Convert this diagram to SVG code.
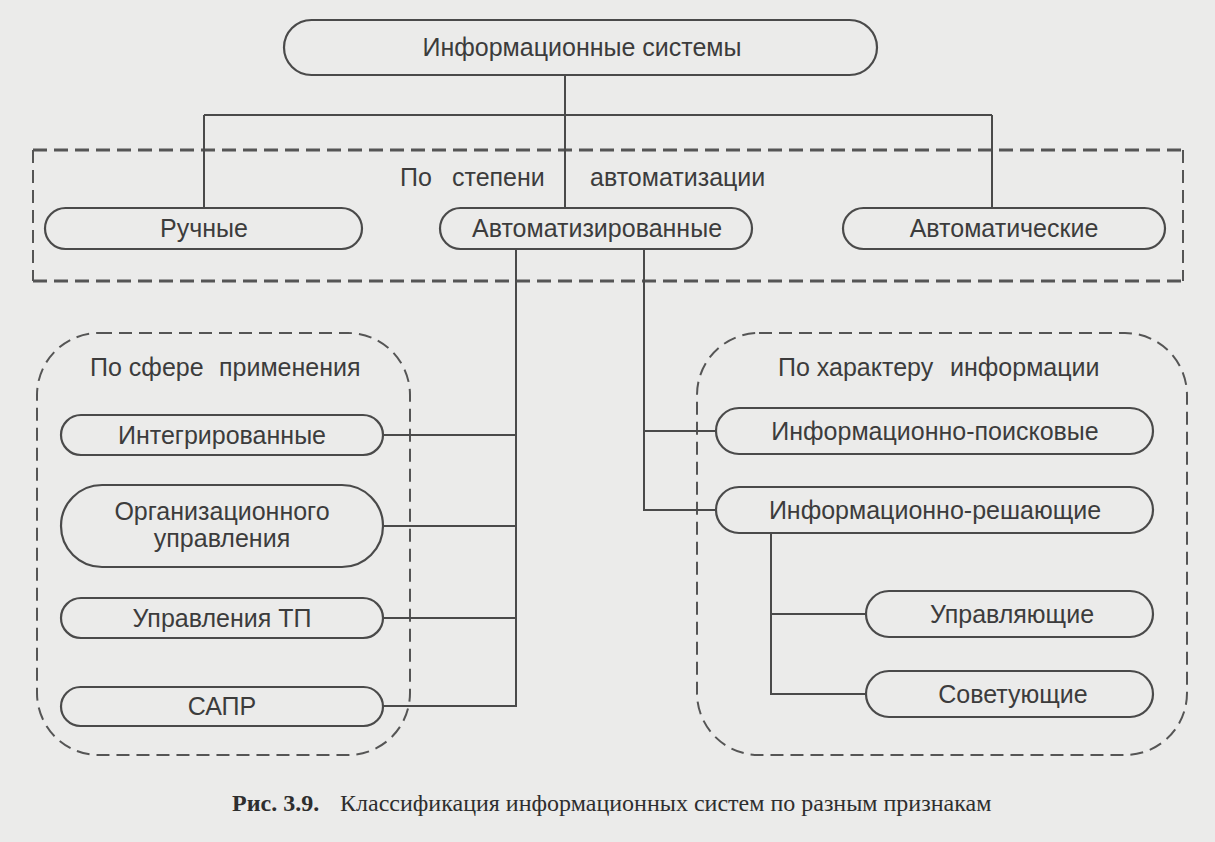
<svg xmlns="http://www.w3.org/2000/svg" width="1215" height="842" viewBox="0 0 1215 842">
<style>
.bg{fill:#ebebea}
.node{fill:none;stroke:#4a4a4a;stroke-width:2.2}
.wire{fill:none;stroke:#4a4a4a;stroke-width:2}
.dash{fill:none;stroke:#555;stroke-width:2;stroke-dasharray:13 7}
.dashh{fill:none;stroke:#555;stroke-width:3.2;stroke-dasharray:14 7}
.t{font-family:"Liberation Sans",Arial,sans-serif;font-size:25px;fill:#3c3c3c}
.c{text-anchor:middle}
.cap{font-family:"Liberation Serif","Times New Roman",serif;font-size:24px;fill:#2e2e2e}
</style>
<rect class="bg" x="0" y="0" width="1215" height="842"/>

<g id="groups">
  <g id="group-automation">
    <line class="dashh" x1="33" y1="150" x2="1183" y2="150"/>
    <line class="dashh" x1="33" y1="281" x2="1183" y2="281"/>
    <line class="dash" x1="33" y1="150" x2="33" y2="281"/>
    <line class="dash" x1="1183" y1="150" x2="1183" y2="281"/>
    <text class="t"><tspan x="400" y="186">По</tspan><tspan x="452" y="186">степени</tspan><tspan x="590" y="186">автоматизации</tspan></text>
  </g>
  <g id="group-sphere">
    <rect class="dash" x="37" y="333" width="373" height="422" rx="62" ry="62"/>
    <text class="t"><tspan x="90" y="376">По сфере</tspan><tspan x="219" y="376">применения</tspan></text>
  </g>
  <g id="group-character">
    <rect class="dash" x="697" y="333" width="490" height="422" rx="62" ry="62"/>
    <text class="t"><tspan x="778" y="376">По характеру</tspan><tspan x="950" y="376">информации</tspan></text>
  </g>
</g>

<g id="connectors">
  <line class="wire" x1="565" y1="75" x2="565" y2="208"/>
  <line class="wire" x1="204" y1="115" x2="992" y2="115"/>
  <line class="wire" x1="204" y1="115" x2="204" y2="208"/>
  <line class="wire" x1="992" y1="115" x2="992" y2="208"/>
  <polyline class="wire" points="516,249 516,706 383,706"/>
  <line class="wire" x1="383" y1="435" x2="516" y2="435"/>
  <line class="wire" x1="383" y1="526" x2="516" y2="526"/>
  <line class="wire" x1="383" y1="618" x2="516" y2="618"/>
  <polyline class="wire" points="644,249 644,510 716,510"/>
  <line class="wire" x1="644" y1="431" x2="716" y2="431"/>
  <polyline class="wire" points="771,533 771,694 866,694"/>
  <line class="wire" x1="771" y1="614" x2="866" y2="614"/>
</g>

<g id="n-root">
  <rect class="node" x="284" y="20" width="593" height="55" rx="27.5"/>
  <text class="t c" x="582" y="56">Информационные системы</text>
</g>
<g id="n-manual">
  <rect class="node" x="45" y="208" width="317" height="41" rx="20.5"/>
  <text class="t c" x="204" y="237">Ручные</text>
</g>
<g id="n-automated">
  <rect class="node" x="440" y="208" width="312" height="41" rx="20.5"/>
  <text class="t c" x="597" y="237">Автоматизированные</text>
</g>
<g id="n-automatic">
  <rect class="node" x="843" y="208" width="322" height="41" rx="20.5"/>
  <text class="t c" x="1004" y="237">Автоматические</text>
</g>

<g id="n-integrated">
  <rect class="node" x="61" y="415" width="322" height="40" rx="20"/>
  <text class="t c" x="222" y="444">Интегрированные</text>
</g>
<g id="n-org">
  <rect class="node" x="61" y="485" width="322" height="82" rx="41"/>
  <text class="t c" x="222" y="520">Организационного</text>
  <text class="t c" x="222" y="547">управления</text>
</g>
<g id="n-tp">
  <rect class="node" x="61" y="598" width="322" height="40" rx="20"/>
  <text class="t c" x="222" y="627">Управления ТП</text>
</g>
<g id="n-sapr">
  <rect class="node" x="61" y="687" width="322" height="39" rx="19.5"/>
  <text class="t c" x="222" y="715">САПР</text>
</g>

<g id="n-search">
  <rect class="node" x="716" y="408" width="437" height="46" rx="23"/>
  <text class="t c" x="935" y="440">Информационно-поисковые</text>
</g>
<g id="n-decision">
  <rect class="node" x="716" y="487" width="437" height="46" rx="23"/>
  <text class="t c" x="935" y="519">Информационно-решающие</text>
</g>
<g id="n-control">
  <rect class="node" x="866" y="591" width="287" height="46" rx="23"/>
  <text class="t c" x="1012" y="623">Управляющие</text>
</g>
<g id="n-advise">
  <rect class="node" x="866" y="671" width="287" height="46" rx="23"/>
  <text class="t c" x="1013" y="703">Советующие</text>
</g>

<text class="cap" x="232" y="811"><tspan font-weight="bold">Рис. 3.9.</tspan><tspan x="340">Классификация информационных систем по разным признакам</tspan></text>
</svg>
